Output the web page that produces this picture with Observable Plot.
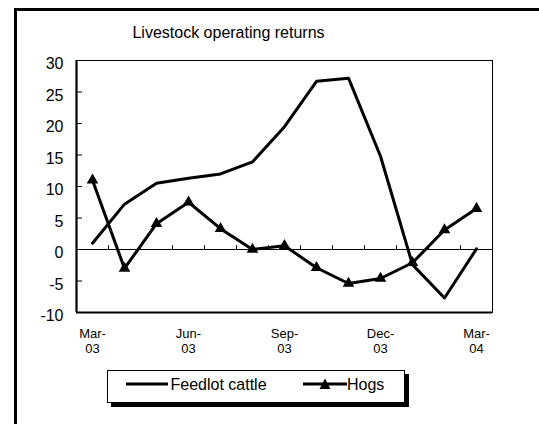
<!DOCTYPE html>
<html><head><meta charset="utf-8">
<script src="https://cdn.jsdelivr.net/npm/d3@7"></script>
<script src="https://cdn.jsdelivr.net/npm/@observablehq/plot@0.6"></script>
<style>
html,body{margin:0;padding:0;background:#fff;}
body{width:539px;height:424px;overflow:hidden;position:relative;font-family:Arial,"Liberation Sans",sans-serif;color:#000;}
#frame{position:absolute;left:14px;top:8px;width:525px;height:416px;border-top:3px solid #000;border-left:3px solid #000;box-sizing:border-box;}
#chart{position:absolute;left:0;top:0;}
#title{position:absolute;left:211.5px;top:13.5px;transform:translateX(-50%);font-size:16px;line-height:16px;white-space:nowrap;}
#legend{position:absolute;left:90px;top:359px;width:298px;height:33px;border:1.5px solid #000;box-sizing:border-box;box-shadow:4px 4px 0 #000;background:#fff;}
#legend .t{position:absolute;top:6px;font-size:16px;line-height:16px;white-space:nowrap;}
#legend svg{position:absolute;top:7px;}
</style></head>
<body>
<div id="frame">
  <div id="chart"></div>
  <div id="title"></div>
  <div id="legend">
    <svg width="42" height="12" style="left:17.5px"><line x1="0" x2="42" y1="6" y2="6" stroke="#000" stroke-width="3"/></svg>
    <div class="t" id="lab0" style="left:62.5px"></div>
    <svg width="44" height="12" style="left:194.5px"><line x1="0" x2="44" y1="6" y2="6" stroke="#000" stroke-width="3"/><path d="M22,0.5 L27.5,11 L16.5,11 Z" fill="#000"/></svg>
    <div class="t" id="lab1" style="left:239px"></div>
  </div>
</div>
<script>
const titleText = "Livestock operating returns";
const seriesNames = ["Feedlot cattle", "Hogs"];
const months = ["Mar-03","Apr-03","May-03","Jun-03","Jul-03","Aug-03","Sep-03","Oct-03","Nov-03","Dec-03","Jan-04","Feb-04","Mar-04"];
const cattle = [1.0, 7.2, 10.5, 11.3, 12.0, 13.9, 19.5, 26.7, 27.2, 14.8, -2.4, -7.7, 0.1];
const hogs = [11.0, -3.0, 4.1, 7.5, 3.3, 0.0, 0.6, -2.9, -5.4, -4.6, -2.1, 3.1, 6.5];
const yTicks = [-10, -5, 0, 5, 10, 15, 20, 25, 30];
const xTickIdx = [0, 3, 6, 9, 12];
const xTickLabels = ["Mar-\n03", "Jun-\n03", "Sep-\n03", "Dec-\n03", "Mar-\n04"];

document.getElementById("title").textContent = titleText;
document.getElementById("lab0").textContent = seriesNames[0];
document.getElementById("lab1").textContent = seriesNames[1];

const rows = months.map((m, i) => ({i, m, cattle: cattle[i], hogs: hogs[i]}));
const bounds = months.slice(1).map((m, i) => i + 0.5);

const chart = Plot.plot({
  width: 522, height: 345,
  marginLeft: 59, marginRight: 47, marginTop: 49, marginBottom: 44,
  x: {type: "linear", domain: [-0.5, months.length - 0.5], label: null},
  y: {domain: [-10, 30], label: null},
  style: {fontFamily: "Arial, 'Liberation Sans', sans-serif", fontSize: "16px", background: "transparent", color: "#000", overflow: "visible"},
  marks: [
    Plot.ruleY([0], {stroke: "#000", strokeWidth: 1}),
    Plot.ruleX(bounds, {x: d => d, y1: 0, y2: 0.6, stroke: "#000", strokeWidth: 1}),
    Plot.frame({stroke: "#000", strokeWidth: 1}),
    Plot.ruleX([-0.5], {x: d => d, stroke: "#000", strokeWidth: 2.2}),
    Plot.ruleY([-10], {y: d => d, stroke: "#000", strokeWidth: 2.2}),
    Plot.tickY(yTicks, {y: d => d, stroke: "#000", strokeWidth: 1, insetRight: 410}),
    Plot.axisY(yTicks, {label: null, tickSize: 0, tickPadding: 13, fontSize: 16, dy: 3.5, tickFormat: d => String(d), fill: "#000"}),
    Plot.axisX(xTickIdx, {label: null, tickSize: 0, tickPadding: 15, fontSize: 13, lineHeight: 1.15, fill: "#000", tickFormat: d => xTickLabels[xTickIdx.indexOf(d)]}),
    Plot.line(rows, {x: "i", y: "cattle", stroke: "#000", strokeWidth: 3}),
    Plot.line(rows, {x: "i", y: "hogs", stroke: "#000", strokeWidth: 3}),
    Plot.dot(rows, {x: "i", y: "hogs", symbol: "triangle", r: 4.3, fill: "#000", stroke: "none"})
  ]
});
document.getElementById("chart").appendChild(chart);
</script>
</body></html>
